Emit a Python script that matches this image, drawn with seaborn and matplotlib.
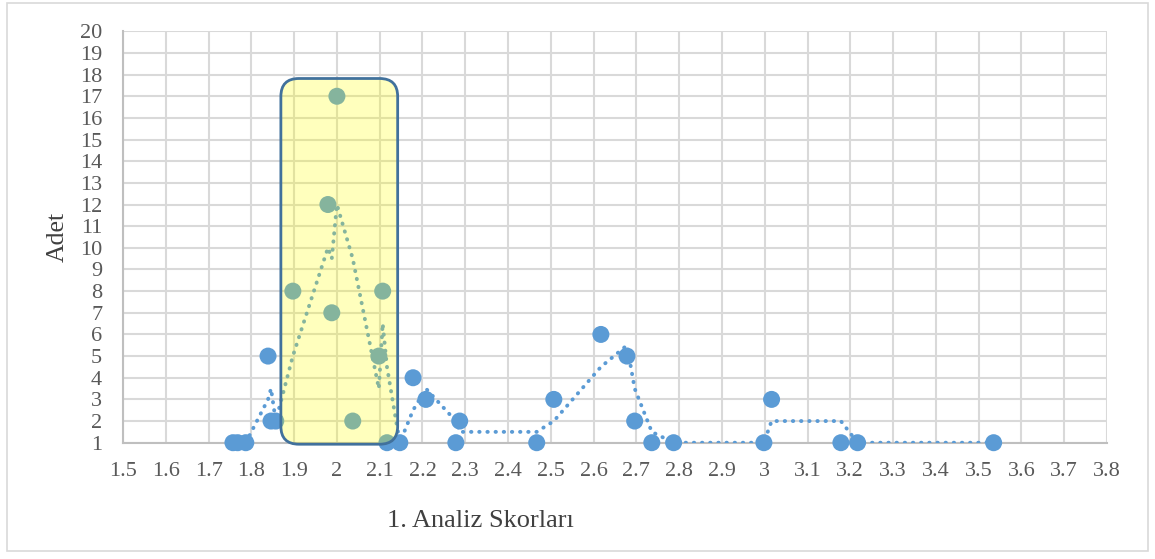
import numpy as np
import pandas as pd
import seaborn as sns
import matplotlib
matplotlib.use("Agg")
import matplotlib.pyplot as plt
from matplotlib.patches import FancyBboxPatch, Rectangle

# Score / count pairs
scores = [1.757, 1.768, 1.787, 1.839, 1.846, 1.857, 1.897, 1.979, 1.988, 2.000,
          2.037, 2.098, 2.107, 2.117, 2.147, 2.178, 2.208, 2.278, 2.287, 2.467,
          2.507, 2.617, 2.678, 2.696, 2.736, 2.787, 2.998, 3.016, 3.178, 3.217,
          3.535]
counts = [1, 1, 1, 5, 2, 2, 8, 12, 7, 17,
          2, 5, 8, 1, 1, 4, 3, 1, 2, 1,
          3, 6, 5, 2, 1, 1, 1, 3, 1, 1,
          1]

x_ticks = [round(1.5 + 0.1 * i, 1) for i in range(24)]
x_tick_labels = [f"{v:g}" for v in x_ticks]
y_ticks = list(range(1, 21))

# Highlighted score band
band_x = (1.869, 2.142)
band_y = (0.93, 17.82)

df = pd.DataFrame({"score": scores, "count": counts}).sort_values("score")
df["ma"] = df["count"].rolling(2).mean()

sns.set_theme(style="white")
plt.rcParams["font.family"] = ["Liberation Serif", "DejaVu Serif"]

W, H, DPI = 1155, 559, 100
fig = plt.figure(figsize=(W / DPI, H / DPI), dpi=DPI)
ax = fig.add_axes([123 / W, 1 - 442.7 / H, (1107 - 123) / W, (442.7 - 31.3) / H])

blue = "#5B9BD5"
grid_c = "#D9D9D9"

sns.lineplot(data=df.dropna(), x="score", y="ma", estimator=None, sort=False,
             ax=ax, color=blue, lw=2.8, linestyle=(0, (0.1, 2.0)),
             dash_capstyle="round", zorder=3)
sns.scatterplot(data=df, x="score", y="count", ax=ax, color=blue, s=150,
                edgecolor="none", linewidth=0, zorder=4, clip_on=False)

ax.set_xlim(1.5, 3.8)
ax.set_ylim(1, 20)
ax.set_xticks(x_ticks)
ax.set_xticklabels(x_tick_labels)
ax.set_yticks(y_ticks)
ax.grid(True, color=grid_c, lw=1.5, zorder=0)
ax.set_axisbelow(True)
for s in ["top", "right"]:
    ax.spines[s].set_visible(False)
for s in ["left", "bottom"]:
    ax.spines[s].set_color("#BFBFBF")
    ax.spines[s].set_linewidth(1.5)
ax.tick_params(axis="both", length=0, labelsize=16, colors="#595959")
ax.tick_params(axis="x", pad=14)
ax.tick_params(axis="y", pad=15)
ax.set_xlabel("")
ax.set_ylabel("")

fig.text(58 / W, 1 - 237 / H, "Adet", rotation=90, ha="center", va="center",
         fontsize=18.5, color="#404040")

# Rounded highlight box, radius expressed in x units with y aspect correction
px_x = (3.8 - 1.5) / (1107 - 123)
px_y = (20 - 1) / (442.7 - 31.3)
box = FancyBboxPatch((band_x[0], band_y[0]), band_x[1] - band_x[0], band_y[1] - band_y[0],
                     boxstyle=f"round,pad=0,rounding_size={18 * px_x}",
                     mutation_aspect=px_y / px_x,
                     facecolor=(1, 1, 0, 0.26), edgecolor="#41719C", lw=2.0,
                     zorder=5, clip_on=False)
ax.add_patch(box)

fig.text(480 / W, 1 - 521 / H, "1. Analiz Skorları", ha="center", va="center",
         fontsize=19, color="#404040")

fig.patches.append(Rectangle((7 / W, 1 - 551 / H), (1148 - 7) / W, (551 - 3) / H,
                             transform=fig.transFigure, fill=False,
                             edgecolor="#D9D9D9", lw=1.2))

fig.savefig("out.png", dpi=DPI, facecolor="white")
